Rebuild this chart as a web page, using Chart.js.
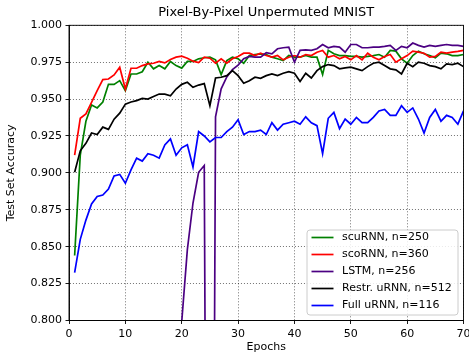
<!DOCTYPE html>
<html>
<head>
<meta charset="utf-8">
<script src="https://cdn.jsdelivr.net/npm/chart.js@4.4.0/dist/chart.umd.min.js"></script>
<style>
  html, body { margin: 0; padding: 0; background: #fff; }
  #chart { display: block; }
</style>
</head>
<body>
<canvas id="chart" width="469" height="354"></canvas>
<script>
// epochs 1..70
var epochs = Array.from({length: 70}, function (_, i) { return i + 1; });

var scuRNN = [0.844, 0.912, 0.935, 0.946, 0.944, 0.948, 0.960, 0.960, 0.9625, 0.9557,
  0.967, 0.967, 0.9685, 0.975, 0.9705, 0.9727, 0.9705, 0.9755, 0.9727, 0.971,
  0.9755, 0.9755, 0.9773, 0.978, 0.9784, 0.9766, 0.9666, 0.9761, 0.9784, 0.9773,
  0.9743, 0.9795, 0.9802, 0.9807, 0.9802, 0.9784, 0.9773, 0.9761, 0.9795, 0.9784,
  0.9784, 0.9795, 0.9784, 0.9784, 0.9666, 0.983, 0.9807, 0.9795, 0.9795, 0.9789,
  0.9789, 0.9784, 0.9789, 0.9795, 0.9802, 0.9784, 0.983, 0.9825, 0.9773, 0.9743,
  0.9795, 0.9825, 0.9807, 0.9795, 0.978, 0.9811, 0.9807, 0.9795, 0.9795, 0.9802];

var scoRNN = [0.912, 0.937, 0.940, 0.9477, 0.9557, 0.9632, 0.9636, 0.9664, 0.9716, 0.9568,
  0.9709, 0.9709, 0.9727, 0.9739, 0.9743, 0.9755, 0.9745, 0.9768, 0.9784, 0.9791,
  0.9777, 0.9757, 0.9748, 0.9784, 0.9777, 0.9743, 0.9773, 0.9743, 0.9773, 0.9789,
  0.9811, 0.9811, 0.9795, 0.9811, 0.9795, 0.9784, 0.9795, 0.9766, 0.9784, 0.9795,
  0.9784, 0.9802, 0.9795, 0.9818, 0.983, 0.9784, 0.9795, 0.9773, 0.9789, 0.9766,
  0.9795, 0.9766, 0.9811, 0.9784, 0.9766, 0.9789, 0.9802, 0.975, 0.9773, 0.9795,
  0.9825, 0.9818, 0.9811, 0.9784, 0.9789, 0.9818, 0.9811, 0.9818, 0.9823, 0.983];

// LSTM stays below the plotted range for the first epochs
var lstm = [null, null, null, null, null, null, null, null, null, null,
  null, null, null, null, null, null, null, null, null, 0.799,
  0.848, 0.8796, 0.9004, 0.905, 0.11, 0.938, 0.957, 0.965, 0.970, 0.973,
  0.9773, 0.9789, 0.9784, 0.9784, 0.9814, 0.9807, 0.9841, 0.9848, 0.9852, 0.975,
  0.983, 0.9834, 0.983, 0.9841, 0.987, 0.9848, 0.9857, 0.9852, 0.9818, 0.987,
  0.987, 0.9848, 0.9848, 0.9852, 0.9852, 0.9857, 0.9864, 0.983, 0.9857, 0.9848,
  0.988, 0.9864, 0.9852, 0.9864, 0.9857, 0.9864, 0.987, 0.9864, 0.9864, 0.9857];

var restrURNN = [0.9004, 0.915, 0.920, 0.927, 0.926, 0.931, 0.9295, 0.9364, 0.9405, 0.9466,
  0.948, 0.949, 0.9505, 0.950, 0.9518, 0.9534, 0.9534, 0.9523, 0.9568, 0.960,
  0.9614, 0.958, 0.9595, 0.9605, 0.9455, 0.9643, 0.9648, 0.9659, 0.9693, 0.9659,
  0.9607, 0.9625, 0.9648, 0.9641, 0.9659, 0.967, 0.9659, 0.9675, 0.9686, 0.9675,
  0.962, 0.9675, 0.9643, 0.9693, 0.972, 0.9734, 0.9727, 0.9705, 0.9711, 0.9716,
  0.9705, 0.9693, 0.972, 0.9743, 0.975, 0.9727, 0.9705, 0.9698, 0.967, 0.9743,
  0.972, 0.975, 0.9743, 0.9727, 0.972, 0.9705, 0.9739, 0.9734, 0.9743, 0.972];

var fullURNN = [0.8325, 0.855, 0.868, 0.879, 0.884, 0.885, 0.889, 0.898, 0.899, 0.893,
  0.902, 0.910, 0.908, 0.913, 0.912, 0.910, 0.919, 0.923, 0.912, 0.917,
  0.919, 0.904, 0.928, 0.925, 0.921, 0.924, 0.924, 0.928, 0.931, 0.936,
  0.926, 0.928, 0.928, 0.929, 0.926, 0.934, 0.929, 0.933, 0.934, 0.935,
  0.933, 0.938, 0.934, 0.932, 0.913, 0.937, 0.941, 0.930, 0.9365, 0.933,
  0.9376, 0.934, 0.934, 0.9376, 0.942, 0.943, 0.939, 0.939, 0.9455, 0.941,
  0.944, 0.9365, 0.927, 0.9376, 0.943, 0.935, 0.939, 0.9376, 0.933, 0.942];

var xTicksStep = 10;
var yTicksStep = 0.025;

function pts(values) {
  return epochs.map(function (e, i) { return {x: e, y: values[i]}; });
}

function series(label, values, color, order) {
  return {
    label: label,
    data: pts(values),
    borderColor: color,
    backgroundColor: color,
    borderWidth: 1.7,
    pointRadius: 0,
    tension: 0,
    fill: false,
    order: order
  };
}

Chart.defaults.font.family = "'DejaVu Sans', sans-serif";
Chart.defaults.color = '#000';

// frame, title and legend drawn like the original figure
var figureExtras = {
  id: 'figureExtras',
  afterDraw: function (chart) {
    var ctx = chart.ctx;
    var a = chart.chartArea;
    ctx.save();
    ctx.strokeStyle = '#000';
    ctx.lineWidth = 0.9;
    ctx.strokeRect(a.left, a.top, a.right - a.left, a.bottom - a.top);

    ctx.font = "13px 'DejaVu Sans'";
    ctx.textAlign = 'center';
    ctx.textBaseline = 'middle';
    ctx.fillStyle = '#000';
    ctx.fillText('Pixel-By-Pixel Unpermuted MNIST', (a.left + a.right) / 2, 13);

    var w = 151, h = 85;
    var x = a.right - 5.5 - w, y = a.bottom - 5.5 - h;
    var r = 3;
    ctx.beginPath();
    ctx.moveTo(x + r, y);
    ctx.arcTo(x + w, y, x + w, y + h, r);
    ctx.arcTo(x + w, y + h, x, y + h, r);
    ctx.arcTo(x, y + h, x, y, r);
    ctx.arcTo(x, y, x + w, y, r);
    ctx.closePath();
    ctx.fillStyle = 'rgba(255,255,255,0.85)';
    ctx.fill();
    ctx.strokeStyle = '#cccccc';
    ctx.lineWidth = 1;
    ctx.stroke();

    ctx.font = "11px 'DejaVu Sans'";
    ctx.textAlign = 'left';
    chart.data.datasets.forEach(function (ds, i) {
      var cy = y + 7.5 + i * 17;
      ctx.strokeStyle = ds.borderColor;
      ctx.lineWidth = 1.7;
      ctx.beginPath();
      ctx.moveTo(x + 4.5, cy);
      ctx.lineTo(x + 26.5, cy);
      ctx.stroke();
      ctx.fillStyle = '#000';
      ctx.fillText(ds.label, x + 35, cy);
    });
    ctx.restore();
  }
};

var ctx = document.getElementById('chart').getContext('2d');
var chart = new Chart(ctx, {
  type: 'line',
  data: {
    datasets: [
      series('scuRNN, n=250', scuRNN, '#008000', 5),
      series('scoRNN, n=360', scoRNN, '#ff0000', 4),
      series('LSTM, n=256', lstm, '#4b0082', 3),
      series('Restr. uRNN, n=512', restrURNN, '#000000', 2),
      series('Full uRNN, n=116', fullURNN, '#0000ff', 1)
    ]
  },
  options: {
    responsive: false,
    animation: false,
    devicePixelRatio: 1,
    layout: { padding: { top: 25.3, right: 5.5, bottom: 0, left: 0 } },
    plugins: {
      legend: { display: false },
      tooltip: { enabled: false },
      title: { display: false }
    },
    scales: {
      x: {
        type: 'linear',
        min: 0,
        max: 70,
        ticks: { stepSize: xTicksStep, font: { size: 11 }, padding: 3.5, maxRotation: 0 },
        grid: { color: 'rgba(0,0,0,0.7)', lineWidth: 0.8, tickLength: 3.5, tickColor: '#000', tickWidth: 0.9, tickBorderDash: [] },
        border: { display: true, color: '#000', width: 0.9, dash: [1, 2] },
        title: { display: true, text: 'Epochs', font: { size: 11 }, padding: { top: 0, bottom: 0 } },
        afterFit: function (scale) {
          scale.height = 33.5;
          scale.paddingLeft = 0;
          scale.paddingRight = 0;
        }
      },
      y: {
        min: 0.8,
        max: 1.0,
        ticks: {
          stepSize: yTicksStep,
          font: { size: 11 },
          padding: 3.5,
          callback: function (v) { return Number(v).toFixed(3); }
        },
        grid: { color: 'rgba(0,0,0,0.7)', lineWidth: 0.8, tickLength: 3.5, tickColor: '#000', tickWidth: 0.9, tickBorderDash: [] },
        border: { display: true, color: '#000', width: 0.9, dash: [1, 2] },
        title: { display: true, text: 'Test Set Accuracy', font: { size: 11 }, padding: { top: 5, bottom: 0 } },
        afterFit: function (scale) {
          scale.width = 69;
          scale.paddingTop = 0;
          scale.paddingBottom = 0;
        }
      }
    }
  },
  plugins: [figureExtras]
});
</script>
</body>
</html>
